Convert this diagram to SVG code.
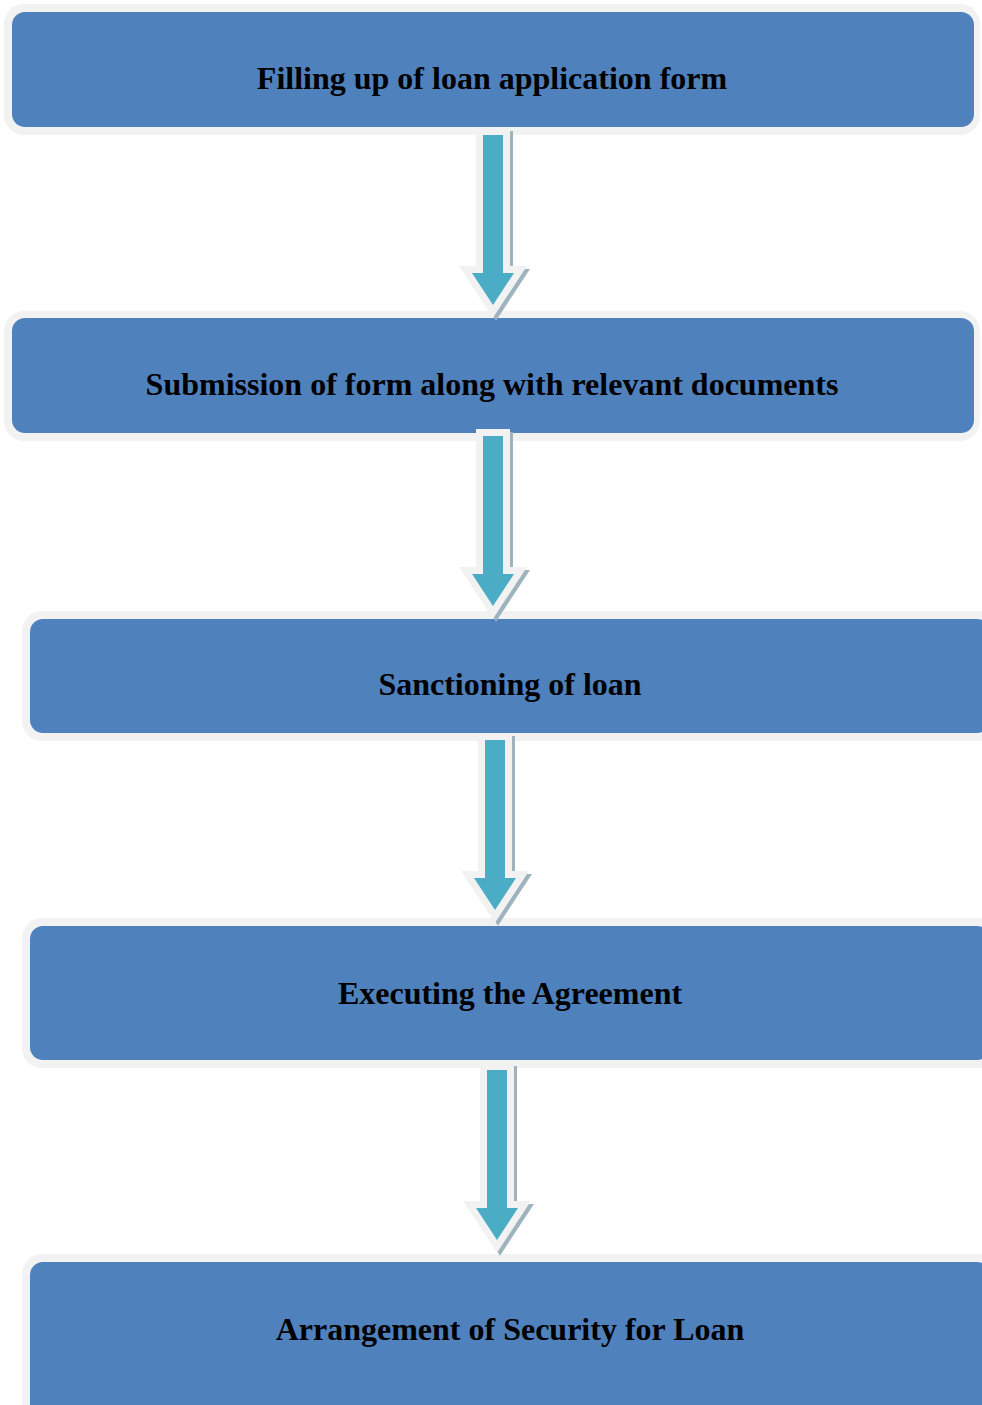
<svg xmlns="http://www.w3.org/2000/svg" xmlns:xlink="http://www.w3.org/1999/xlink" width="982" height="1405" viewBox="0 0 982 1405">
<style>
.outer{fill:#f2f2f2;}
.inner{fill:#4f81bd;}
.lbl{font-family:"Liberation Serif","Times New Roman",serif;font-weight:bold;font-size:32px;fill:#000;text-anchor:middle;}
</style>
<defs>
<path id="arr" d="M-10,0 L10,0 L10,138 L21,138 L0,170 L-21,138 L-10,138 Z"/>
<g id="arrow">
<use xlink:href="#arr" transform="translate(3,3)" fill="#9db3bd" stroke="#9db3bd" stroke-width="14" stroke-linejoin="miter"/>
<use xlink:href="#arr" fill="#f2f2f2" stroke="#f2f2f2" stroke-width="14" stroke-linejoin="miter"/>
<use xlink:href="#arr" fill="#4bacc6"/>
</g>
</defs>
<rect width="982" height="1405" fill="#ffffff"/>
<g id="node1">
<rect class="outer" x="4" y="4" width="976" height="131" rx="20"/>
<rect class="inner" x="12" y="12" width="962" height="115" rx="13"/>
<text class="lbl" x="492" y="89">Filling up of loan application form</text>
</g>
<g id="node2">
<rect class="outer" x="4" y="311" width="976" height="130" rx="20"/>
<rect class="inner" x="12" y="318" width="962" height="115" rx="13"/>
<text class="lbl" x="492" y="395">Submission of form along with relevant documents</text>
</g>
<g id="node3">
<rect class="outer" x="22" y="611" width="980" height="130" rx="20"/>
<rect class="inner" x="30" y="619" width="960" height="114" rx="13"/>
<text class="lbl" x="510" y="695">Sanctioning of loan</text>
</g>
<g id="node4">
<rect class="outer" x="22" y="918" width="980" height="150" rx="20"/>
<rect class="inner" x="30" y="926" width="960" height="134" rx="13"/>
<text class="lbl" x="510" y="1004">Executing the Agreement</text>
</g>
<g id="node5">
<rect class="outer" x="22" y="1254" width="980" height="180" rx="20"/>
<rect class="inner" x="30" y="1262" width="960" height="170" rx="13"/>
<text class="lbl" x="510" y="1340">Arrangement of Security for Loan</text>
</g>
<g id="connectors">
<use xlink:href="#arrow" transform="translate(493,135)"/>
<use xlink:href="#arrow" transform="translate(493,436)"/>
<use xlink:href="#arrow" transform="translate(495,740)"/>
<use xlink:href="#arrow" transform="translate(497,1070)"/>
</g>
</svg>
